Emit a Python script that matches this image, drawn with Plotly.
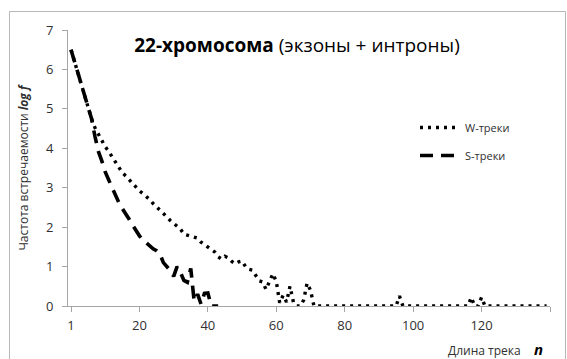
import plotly.graph_objects as go

# ---- data ----
w_n = list(range(1, 141))
w_vals = [
    6.5, 6.2, 5.9, 5.6, 5.3, 5.05, 4.75, 4.52, 4.35, 4.2,
    4.04, 3.92, 3.78, 3.65, 3.5, 3.38, 3.3, 3.2, 3.1, 3.0,
    2.92, 2.85, 2.78, 2.7, 2.6, 2.52, 2.43, 2.35, 2.26, 2.17,
    2.1, 2.02, 1.95, 1.82, 1.8, 1.78, 1.74, 1.72, 1.62, 1.56,
    1.5, 1.44, 1.37, 1.25, 1.19, 1.26, 1.22, 1.13, 1.07, 1.12,
    1.14, 1.0, 0.93, 0.91, 0.78, 0.64, 0.61, 0.42, 0.62, 0.82,
    0.62, 0.08, 0.27, 0.1, 0.5, 0.1, 0.0, 0.0, 0.15, 0.58,
    0.4, 0.0, 0.0, 0.0, 0.0, 0.0, 0.0, 0.0, 0.0, 0.0,
    0.0, 0.0, 0.0, 0.0, 0.0, 0.0, 0.0, 0.0, 0.0, 0.0,
    0.0, 0.0, 0.0, 0.0, 0.0, 0.0, 0.25, 0.0, 0.0, 0.0,
    0.0, 0.0, 0.0, 0.0, 0.0, 0.0, 0.0, 0.0, 0.0, 0.0,
    0.0, 0.0, 0.0, 0.0, 0.0, 0.0, 0.0, 0.22, 0.0, 0.0,
    0.22, 0.0, 0.0, 0.0, 0.0, 0.0, 0.0, 0.0, 0.0, 0.0,
    0.0, 0.0, 0.0, 0.0, 0.0, 0.0, 0.0, 0.0, 0.0, 0.0,
]
s_n = list(range(1, 45))
s_vals = [
    6.5, 6.2, 5.95, 5.6, 5.35, 5.05, 4.75, 4.3, 3.92, 3.68,
    3.4, 3.2, 3.0, 2.78, 2.62, 2.47, 2.35, 2.2, 2.05, 1.9,
    1.78, 1.68, 1.6, 1.5, 1.45, 1.4, 1.32, 1.1, 1.0, 0.9,
    0.75, 1.0, 0.85, 0.65, 0.6, 0.95, 0.12, 0.3, 0.05, 0.32,
    0.33, 0.0, 0.0, 0.0,
]
x_tick_vals = [1, 21, 41, 61, 81, 101, 121, 141]
x_tick_text = ["1", "20", "40", "60", "80", "100", "120", ""]
y_tick_vals = [0, 1, 2, 3, 4, 5, 6, 7]

W_NAME = "W-треки"
S_NAME = "S-треки"

FONT = "Open Sans, Noto Sans, DejaVu Sans, sans-serif"
AX = "#a6a6a6"
TXT = "#303030"

fig = go.Figure()
fig.add_trace(go.Scatter(
    x=w_n, y=w_vals, mode="lines", name=W_NAME, legendgroup="w",
    line=dict(color="black", width=3.4, dash="3px,5px"),
))
fig.add_trace(go.Scatter(
    x=s_n, y=s_vals, mode="lines", name=S_NAME, legendgroup="s",
    line=dict(color="black", width=3.6, dash="13px,8px"),
))

L, R, T, B = 68, 17, 30, 53
W, H = 567, 359
pw, ph = W - L - R, H - T - B

def px2x(px):
    return (px - L) / pw

def py2y(py):
    return (H - B - py) / ph

fig.update_layout(
    width=W, height=H,
    margin=dict(l=L, r=R, t=T, b=B, pad=0),
    paper_bgcolor="white", plot_bgcolor="white",
    font=dict(family=FONT, color=TXT),
    showlegend=True,
    legend=dict(
        x=px2x(415), y=py2y(113), xanchor="left", yanchor="top",
        font=dict(size=11, color=TXT),
        bgcolor="rgba(0,0,0,0)", tracegroupgap=9, itemwidth=40,
    ),
    title=dict(
        text="<b>22-хромосома</b> (экзоны + интроны)",
        x=297 / W, xanchor="center", xref="container",
        y=1 - 45 / H, yanchor="middle", yref="container",
        font=dict(size=19, color="black", family=FONT),
    ),
    xaxis=dict(
        range=[0.12, 141], tickvals=x_tick_vals, ticktext=x_tick_text,
        showgrid=False, zeroline=False, showline=True, linecolor=AX, linewidth=1,
        ticks="outside", ticklen=5, tickcolor=AX, ticklabelstandoff=2,
        tickfont=dict(size=13, color=TXT),
    ),
    yaxis=dict(
        range=[0, 7], tickvals=y_tick_vals,
        showgrid=False, zeroline=False, showline=True, linecolor=AX, linewidth=1,
        ticks="outside", ticklen=5, tickcolor=AX, ticklabelstandoff=6,
        tickfont=dict(size=13, color=TXT),
        title=dict(text="Частота встречаемости <b><i>log f</i></b>",
                   font=dict(size=12, color=TXT), standoff=14),
    ),
    annotations=[
        dict(text="Длина трека", xref="paper", yref="paper",
             x=px2x(523), y=py2y(350), xanchor="right", yanchor="middle",
             showarrow=False, font=dict(size=12, color=TXT)),
        dict(text="<b><i>n</i></b>", xref="paper", yref="paper",
             x=px2x(538), y=py2y(349), xanchor="center", yanchor="middle",
             showarrow=False, font=dict(size=15, color="black")),
    ],
    shapes=[
        dict(type="rect", xref="paper", yref="paper",
             x0=px2x(9.5), x1=px2x(565.5), y0=py2y(370), y1=py2y(11.5),
             line=dict(color="#b8b8b8", width=1), fillcolor="rgba(0,0,0,0)",
             layer="above"),
    ],
)

fig.write_html("out.html", config={"displayModeBar": False},
               post_script="document.body.style.margin='0px';")
